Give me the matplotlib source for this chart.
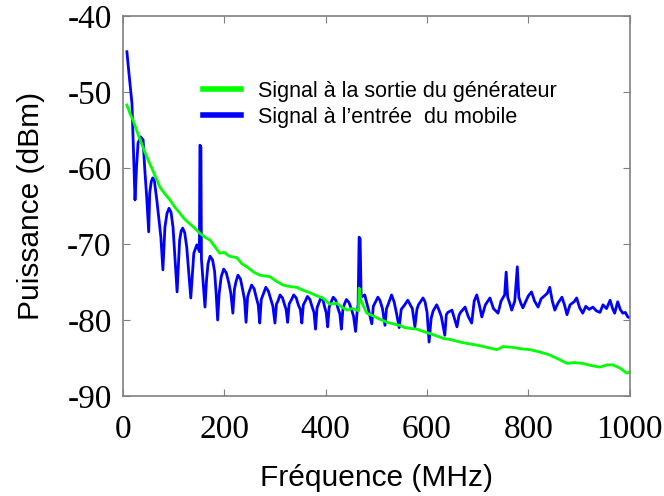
import matplotlib
matplotlib.use('Agg')
import matplotlib.pyplot as plt

# values
blue_freq = [8, 12, 18, 20, 22, 24, 27, 30, 35, 40, 43, 47, 51, 53, 56, 59, 62, 67, 75, 79, 83,
             87, 91, 95, 99, 107, 112, 115, 118, 122, 126, 134, 140, 146, 151, 152, 154, 155,
             162, 165, 168, 172, 177, 181, 184,
             187, 190, 194, 199, 204, 209, 213,
             217, 220, 223, 227, 232, 236, 240,
             243, 246, 249, 254, 259, 263, 267,
             270, 273, 277, 282, 287, 292, 296,
             300, 303, 306, 310, 315, 319, 322,
             325, 328, 332, 337, 342, 346, 350,
             353, 356, 360, 364, 369, 373, 377,
             380, 383, 387, 391, 395, 398, 401,
             404, 407, 411, 415, 420, 424, 428,
             431, 434, 437, 441, 446, 451, 455,
             459, 462, 464, 466, 468, 470, 477, 484,
             491, 494, 497, 503, 507, 512, 517, 520, 523, 530, 535, 540, 545, 549, 556, 562, 566,
             571, 576, 580, 583, 592, 596, 600, 604, 608, 612, 619, 623, 628, 635, 638, 641, 649,
             654, 659, 663, 666, 675, 681, 688, 693, 698, 703, 708, 715, 724, 731, 740, 746,
             753, 756, 759, 763, 767, 773, 778, 781, 785, 789, 795, 800, 806, 812, 819, 825,
             832, 837, 842, 847, 852, 858, 866, 871, 876, 882, 890, 895, 901, 907, 913, 920,
             927, 934, 941, 947, 954, 961, 966, 970, 976, 981, 986, 991, 996, 1000]
blue_dbm = [-44.7, -47.5, -51.5, -55.9, -59.9, -64.2, -59.9, -56.7, -55.9, -56.3, -59.9, -63.8,
            -68.4, -63.3, -61.8, -61.3, -61.6, -64.2, -69.1, -73.4, -67.8, -66.0, -65.3, -65.8,
            -67.8, -76.3, -69.5, -68.3, -67.9, -68.5, -70.4, -77.1, -71.2, -70.1, -71.0, -57.0,
            -57.2, -72.0,
            -78.3, -74.8, -72.6, -71.6, -72.1, -73.6, -76.5,
            -80.0, -76.5, -74.3, -73.3, -73.8, -75.1, -76.5,
            -79.1, -76.0, -75.0, -74.1, -74.6, -75.9, -77.3,
            -80.3, -77.0, -76.3, -75.4, -75.9, -77.0, -78.0,
            -80.4, -77.3, -76.6, -75.7, -76.2, -77.3, -78.2,
            -80.4, -77.9, -77.5, -76.7, -77.1, -78.0, -78.6,
            -80.3, -77.9, -77.4, -76.7, -77.1, -78.0, -78.6,
            -80.4, -78.0, -77.5, -76.9, -77.3, -78.2, -79.0,
            -81.2, -78.4, -77.7, -77.0, -77.4, -78.3, -79.0,
            -80.9, -78.3, -77.6, -77.0, -77.4, -78.4, -79.2,
            -81.2, -78.6, -77.9, -77.3, -77.7, -78.6, -79.5,
            -81.5, -79.0, -78.0, -69.1, -69.3, -77.0, -76.7, -78.5,
            -80.5, -78.2, -77.8, -77.0, -77.4, -78.5, -80.7, -78.5, -78.0, -76.7, -77.6, -79.2,
            -81.0, -78.6, -78.0, -77.4, -77.9, -78.5, -80.9, -78.6, -78.0, -77.1, -77.6, -79.0,
            -82.9, -79.8, -78.8, -78.0, -78.6, -79.5, -82.0, -79.3, -79.0, -78.7, -79.8, -80.9,
            -79.4, -79.0, -78.3, -79.5, -80.4, -77.5, -76.7, -78.0, -79.6, -78.0, -77.1, -78.5,
            -79.1, -77.5, -76.7, -73.7, -77.0, -77.8, -78.7, -77.5, -73.0, -77.0, -77.8, -78.4,
            -77.5, -76.8, -76.3, -77.5, -78.3, -77.2, -76.8, -76.5, -75.7, -77.5, -78.7, -77.8,
            -77.0, -78.0, -79.3, -78.0, -77.6, -77.1, -78.4, -79.1, -78.2, -78.6, -78.3, -78.8,
            -79.0, -78.0, -78.5, -77.4, -78.5, -79.1, -77.6, -78.6, -79.1, -79.0, -79.6, -79.7]

green_freq = [8, 14, 20, 27, 34, 40, 47, 53, 59, 66, 73, 83, 93, 102, 112, 120, 128, 140, 152,
              162, 172, 182, 191, 200, 210, 225, 235, 245, 258, 270, 280, 290, 303, 316, 330,
              343, 356, 369, 382, 394, 408, 422, 432, 442, 452, 462, 465, 466, 470, 481, 495,
              507, 521, 533, 546, 556, 566, 580, 592, 602, 615, 631, 648, 665, 680, 698, 718,
              738, 750, 769, 786, 803, 822, 842, 858, 876, 890, 907, 924, 941, 955, 966, 980,
              994, 1000]
green_dbm = [-51.7, -52.8, -53.7, -55.0, -56.3, -57.3, -58.5, -59.4, -60.3, -61.4, -62.5, -63.4,
             -64.2, -65.1, -65.9, -66.6, -67.1, -67.8, -68.6, -69.1, -69.5, -70.4, -71.2, -71.1,
             -71.6, -71.8, -72.6, -73.0, -73.7, -74.1, -74.2, -74.3, -74.9, -75.4, -75.6, -75.7,
             -76.1, -76.4, -76.8, -77.1, -77.9, -77.8, -78.3, -78.7, -78.5, -78.7, -78.8, -75.8,
             -77.5, -79.1, -79.5, -79.9, -80.3, -80.5, -80.7, -81.0, -81.1, -81.2, -81.5, -81.7,
             -82.0, -82.4, -82.6, -82.9, -83.1, -83.3, -83.6, -83.9, -83.5, -83.6, -83.8, -83.9,
             -84.2, -84.6, -85.1, -85.7, -85.6, -85.7, -86.0, -86.2, -85.9, -85.9, -86.3, -87.0,
             -86.8]

plt.rcParams['axes.unicode_minus'] = False

fig = plt.figure(figsize=(6.64, 4.96), dpi=100)
ax = fig.add_axes([0.185, 0.2016, 0.7636, 0.7661])

lb, = ax.plot(blue_freq, blue_dbm, color='#0000ff', lw=2.0)
lg, = ax.plot(green_freq, green_dbm, color='#00ff00', lw=2.0)

ax.set_xlim(0, 1000)
ax.set_ylim(-90, -40)
ax.set_xticks([0, 200, 400, 600, 800, 1000])
ax.set_yticks([-90, -80, -70, -60, -50, -40])

for s in ax.spines.values():
    s.set_color('#808080')
    s.set_linewidth(1.2)
ax.tick_params(direction='in', length=5, color='#808080', top=True, right=True,
               labelsize=24, pad=8)
ax.tick_params(axis='x', pad=13)
for lab in ax.get_xticklabels() + ax.get_yticklabels():
    lab.set_family('Liberation Serif')

ax.set_xlabel('Fréquence (MHz)', family='Liberation Sans', fontsize=21.5, labelpad=14)
ax.set_ylabel('Puissance (dBm)', family='Liberation Sans', fontsize=21.5, labelpad=16)

leg = ax.legend([lg, lb], ['Signal à la sortie du générateur', 'Signal à l\u2019entrée  du mobile'],
                loc='upper left', bbox_to_anchor=(0.158, 0.83), frameon=False,
                prop={'family': 'Liberation Sans', 'size': 15.5},
                handlelength=1.75, handletextpad=0.8, labelspacing=0.25,
                borderpad=0, borderaxespad=0)
for h in leg.get_lines():
    h.set_linewidth(4)

fig.savefig('out.png', dpi=100)
